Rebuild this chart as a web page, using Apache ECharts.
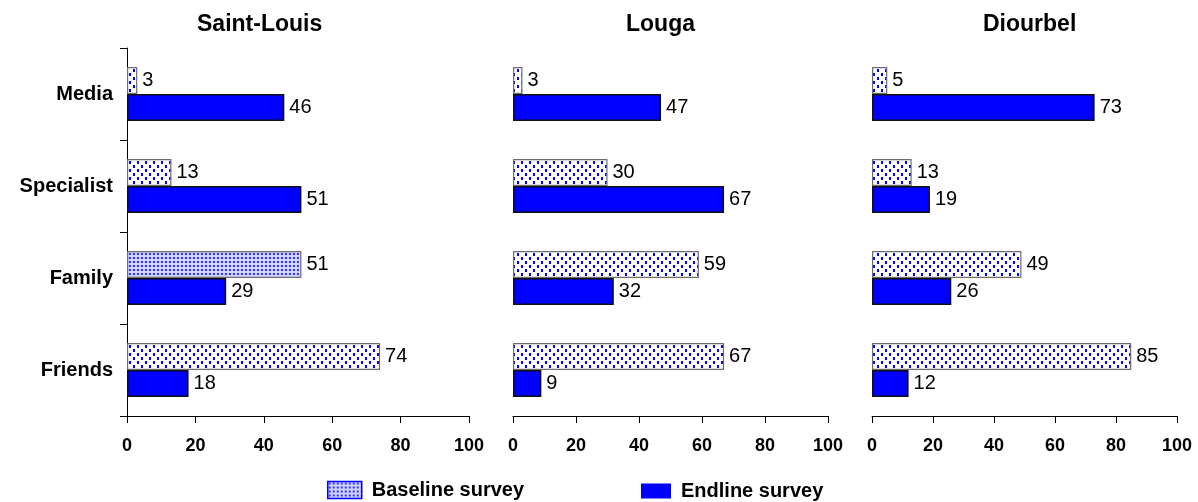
<!DOCTYPE html>
<html>
<head>
<meta charset="utf-8">
<title>Sources of information by region</title>
<script src="https://cdn.jsdelivr.net/npm/echarts@6/dist/echarts.min.js"></script>
<style>
  html, body { margin: 0; padding: 0; background: #ffffff; }
  #chart { width: 1198px; height: 502px; }
</style>
</head>
<body>
<div id="chart"></div>
<script>
// Categories (top to bottom) and regions (left to right)
const categories = ['Media', 'Specialist', 'Family', 'Friends'];
const regions = ['Saint-Louis', 'Louga', 'Diourbel'];

// Percent values per region, in category order
const baselineSaintLouis = [3, 13, 51, 74];
const endlineSaintLouis = [46, 51, 29, 18];
const baselineLouga = [3, 30, 59, 67];
const endlineLouga = [47, 67, 32, 9];
const baselineDiourbel = [5, 13, 49, 85];
const endlineDiourbel = [73, 19, 26, 12];

const baselineByRegion = [baselineSaintLouis, baselineLouga, baselineDiourbel];
const endlineByRegion = [endlineSaintLouis, endlineLouga, endlineDiourbel];

const FONT = '"Liberation Sans", Arial, sans-serif';

// Small repeating canvas tiles used as dotted fills
function dotTile(size, bg, dotColor, dots, dotW, dotH) {
  const c = document.createElement('canvas');
  c.width = size; c.height = size;
  const g = c.getContext('2d');
  g.fillStyle = bg;
  g.fillRect(0, 0, size, size);
  g.fillStyle = dotColor;
  dots.forEach(function (d) { g.fillRect(d[0], d[1], dotW, dotH); });
  return c;
}
const sparseDots = { image: dotTile(8, '#ffffff', '#0000ff', [[1, 1], [5, 5]], 2, 3), repeat: 'repeat' };
const denseDots = { image: dotTile(4, '#d2d2ff', '#3333ff', [[1, 1]], 2, 2), repeat: 'repeat' };

// Panel placement
const panels = [
  { left: 127, width: 342, titleLeft: 197 },
  { left: 513, width: 315, titleLeft: 626 },
  { left: 872, width: 305, titleLeft: 983 }
];
const GRID_TOP = 48;
const GRID_HEIGHT = 368;

const grid = [], xAxis = [], yAxis = [], series = [], title = [];

regions.forEach(function (region, i) {
  const p = panels[i];
  grid.push({ left: p.left, top: GRID_TOP, width: p.width, height: GRID_HEIGHT, containLabel: false });
  title.push({
    text: region, left: p.titleLeft, top: 13, padding: 0,
    textStyle: { fontFamily: FONT, fontSize: 23, fontWeight: 'bold', color: '#000' }
  });
  xAxis.push({
    type: 'value', gridIndex: i, min: 0, max: 100, interval: 20,
    axisLine: { show: true, lineStyle: { color: '#000', width: 1 } },
    axisTick: { show: true, length: 7, lineStyle: { color: '#000', width: 1 } },
    axisLabel: { fontFamily: FONT, fontSize: 18, fontWeight: 'bold', color: '#000', margin: 21 },
    splitLine: { show: false }
  });
  const showY = i === 0;
  yAxis.push({
    type: 'category', gridIndex: i, data: categories, inverse: true,
    axisLine: { show: showY, lineStyle: { color: '#000', width: 1 } },
    axisTick: { show: showY, length: 7, lineStyle: { color: '#000', width: 1 } },
    axisLabel: { show: showY, fontFamily: FONT, fontSize: 20, fontWeight: 'bold', color: '#000', margin: 14 }
  });

  const labelStyle = {
    show: true, position: 'right', distance: 5,
    fontFamily: FONT, fontSize: 20, color: '#000'
  };

  series.push({
    name: 'Baseline survey', type: 'bar', xAxisIndex: i, yAxisIndex: i,
    barWidth: 27, barGap: '0%',
    data: baselineByRegion[i].map(function (v, j) {
      // Saint-Louis family bar uses the finer dotted fill
      if (i === 0 && categories[j] === 'Family') {
        return { value: v, itemStyle: { color: denseDots } };
      }
      return v;
    }),
    itemStyle: { color: sparseDots, borderColor: '#6e6e6e', borderWidth: 1.2 },
    label: labelStyle,
    emphasis: { disabled: true },
    animation: false
  });
  series.push({
    name: 'Endline survey', type: 'bar', xAxisIndex: i, yAxisIndex: i,
    barWidth: 27, barGap: '0%',
    data: endlineByRegion[i].slice(),
    itemStyle: { color: '#0000ff', borderColor: '#111', borderWidth: 1.5 },
    label: labelStyle,
    emphasis: { disabled: true },
    animation: false
  });
});

const legendText = { fontFamily: FONT, fontSize: 20, fontWeight: 'bold', color: '#000', padding: [0, 0, 0, 5] };

const option = {
  backgroundColor: '#ffffff',
  animation: false,
  title: title,
  grid: grid,
  xAxis: xAxis,
  yAxis: yAxis,
  legend: [
    {
      left: 322, top: 475, icon: 'rect', itemWidth: 34, itemHeight: 17,
      selectedMode: false, textStyle: legendText,
      data: [{ name: 'Baseline survey', itemStyle: { color: denseDots, borderColor: '#0000ff', borderWidth: 1.5 } }]
    },
    {
      left: 636, top: 476, icon: 'rect', itemWidth: 30, itemHeight: 15,
      selectedMode: false, textStyle: legendText,
      data: [{ name: 'Endline survey', itemStyle: { color: '#0000ff', borderWidth: 0 } }]
    }
  ],
  series: series
};

const chart = echarts.init(document.getElementById('chart'), null, { renderer: 'canvas' });
chart.setOption(option);
</script>
</body>
</html>
